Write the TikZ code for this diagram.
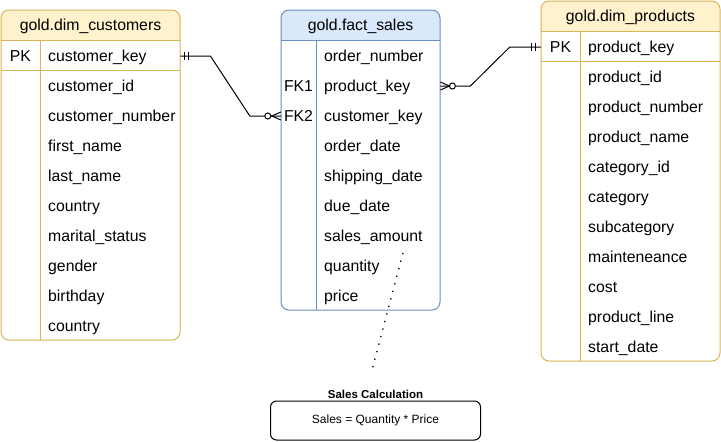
\documentclass[tikz,border=0pt]{standalone}
\usepackage{fontspec}
\setmainfont{Liberation Sans}
\usepackage{tikz}
\usepackage{xcolor}

\definecolor{hdryellow}{HTML}{FFF2CC}
\definecolor{edgegold}{HTML}{D6B656}
\definecolor{hdrblue}{HTML}{DAE8FC}
\definecolor{edgeblue}{HTML}{6C8EBF}

\newcommand{\fieldfont}{\fontsize{15.8}{18}\selectfont}

\tikzset{
  title/.style={inner sep=0pt, font=\fieldfont, text height=14.3pt, text depth=3.35pt},
  field/.style={anchor=west, inner xsep=8pt, inner ysep=0pt, align=left, yshift=-1pt,
                font=\fieldfont, text height=14.3pt, text depth=3.35pt},
  keycell/.style={inner xsep=0pt, inner ysep=0pt, font=\fieldfont, yshift=-1pt,
                  text height=14.3pt, text depth=3.35pt},
  relation/.style={line width=1pt, black},
}

\begin{document}
\begin{tikzpicture}[x=1pt, y=-1pt]
  \useasboundingbox (0,0) rectangle (721,442);

  % Customers table
  \begin{scope}
    \clip[rounded corners=8pt] (1,10) rectangle (180,340);
    \fill[hdryellow] (1,10) rectangle (180,40);
  \end{scope}
  \draw[edgegold, line width=1pt, rounded corners=8pt] (1,10) rectangle (180,340);
  \draw[edgegold, line width=1pt] (1,40) -- (180,40);
  \draw[edgegold, line width=1pt] (1,70) -- (180,70);
  \draw[edgegold, line width=1pt] (40,40) -- (40,340);

  \node[title] (cust-title) at (90.5,25) {gold.dim\_customers};
  \node[keycell, minimum width=39pt] (cust-pk) at (20.5,55) {PK};
  \node[field, text width=124pt] (cust-key)     at (40,55)  {customer\_key};
  \node[field, text width=124pt] (cust-id)      at (40,85)  {customer\_id};
  \node[field, text width=124pt] (cust-number)  at (40,115) {customer\_number};
  \node[field, text width=124pt] (cust-first)   at (40,145) {first\_name};
  \node[field, text width=124pt] (cust-last)    at (40,175) {last\_name};
  \node[field, text width=124pt] (cust-country) at (40,205) {country};
  \node[field, text width=124pt] (cust-marital) at (40,235) {marital\_status};
  \node[field, text width=124pt] (cust-gender)  at (40,265) {gender};
  \node[field, text width=124pt] (cust-birth)   at (40,295) {birthday};
  \node[field, text width=124pt] (cust-cntry2)  at (40,325) {country};

  % Fact table
  \begin{scope}
    \clip[rounded corners=8pt] (281,10) rectangle (440,310);
    \fill[hdrblue] (281,10) rectangle (440,40);
  \end{scope}
  \draw[edgeblue, line width=1pt, rounded corners=8pt] (281,10) rectangle (440,310);
  \draw[edgeblue, line width=1pt] (281,40) -- (440,40);
  \draw[edgeblue, line width=1pt] (316,40) -- (316,310);

  \node[title] (fact-title) at (360.5,25) {gold.fact\_sales};
  \node[keycell, minimum width=35pt] (fact-fk1) at (298.5,85)  {FK1};
  \node[keycell, minimum width=35pt] (fact-fk2) at (298.5,115) {FK2};
  \node[field, text width=108pt] (fact-order)  at (316,55)  {order\_number};
  \node[field, text width=108pt] (fact-pk)     at (316,85)  {product\_key};
  \node[field, text width=108pt] (fact-ck)     at (316,115) {customer\_key};
  \node[field, text width=108pt] (fact-odate)  at (316,145) {order\_date};
  \node[field, text width=108pt] (fact-sdate)  at (316,175) {shipping\_date};
  \node[field, text width=108pt] (fact-ddate)  at (316,205) {due\_date};
  \node[field, text width=108pt] (fact-sa)     at (316,235) {sales\_amount};
  \node[field, text width=108pt] (fact-qty)    at (316,265) {quantity};
  \node[field, text width=108pt] (fact-price)  at (316,295) {price};

  % Products table
  \begin{scope}
    \clip[rounded corners=8pt] (541,1) rectangle (720,361);
    \fill[hdryellow] (541,1) rectangle (720,31);
  \end{scope}
  \draw[edgegold, line width=1pt, rounded corners=8pt] (541,1) rectangle (720,361);
  \draw[edgegold, line width=1pt] (541,31) -- (720,31);
  \draw[edgegold, line width=1pt] (541,61) -- (720,61);
  \draw[edgegold, line width=1pt] (580,31) -- (580,361);

  \node[title] (prod-title) at (630.5,16) {gold.dim\_products};
  \node[keycell, minimum width=39pt] (prod-pk) at (560.5,46) {PK};
  \node[field, text width=124pt] (prod-key)    at (580,46)  {product\_key};
  \node[field, text width=124pt] (prod-id)     at (580,76)  {product\_id};
  \node[field, text width=124pt] (prod-number) at (580,106) {product\_number};
  \node[field, text width=124pt] (prod-name)   at (580,136) {product\_name};
  \node[field, text width=124pt] (prod-catid)  at (580,166) {category\_id};
  \node[field, text width=124pt] (prod-cat)    at (580,196) {category};
  \node[field, text width=124pt] (prod-subcat) at (580,226) {subcategory};
  \node[field, text width=124pt] (prod-maint)  at (580,256) {mainteneance};
  \node[field, text width=124pt] (prod-cost)   at (580,286) {cost};
  \node[field, text width=124pt] (prod-line)   at (580,316) {product\_line};
  \node[field, text width=124pt] (prod-start)  at (580,346) {start\_date};

  % Customers -- fact relation
  \draw[relation] (cust-key.east) -- ++(30,0) -- ([xshift=-31pt]fact-fk2.west) -- (fact-fk2.west);
  \draw[relation] ([xshift=4pt, yshift=4pt]cust-key.east) -- ++(0,8); % one
  \draw[relation] ([xshift=8pt, yshift=4pt]cust-key.east) -- ++(0,8);
  \draw[relation, fill=white] ([xshift=-13pt]fact-fk2.west) circle (3pt); % zero
  \draw[relation]
         ([yshift=4pt]fact-fk2.west) --
         ([xshift=-9pt]fact-fk2.west) --
         ([yshift=-4pt]fact-fk2.west); % many

  % Products -- fact relation
  \draw[relation] (fact-pk.east) -- ++(30,0) -- ([xshift=-31pt]prod-pk.west) -- (prod-pk.west);
  \draw[relation] ([xshift=-9pt, yshift=4pt]prod-pk.west) -- ++(0,8); % one
  \draw[relation] ([xshift=-5pt, yshift=4pt]prod-pk.west) -- ++(0,8);
  \draw[relation, fill=white] ([xshift=12pt]fact-pk.east) circle (3pt); % zero
  \draw[relation]
         ([yshift=4pt]fact-pk.east) --
         ([xshift=9pt]fact-pk.east) --
         ([yshift=-4pt]fact-pk.east); % many

  % Calculation note
  \node[draw, line width=1pt, rounded corners=6pt, minimum width=210pt, minimum height=39pt,
        font=\fontsize{12}{14}\selectfont] (note) at (375.5,420.5) {Sales = Quantity * Price};
  \node[inner sep=0pt, font=\fontsize{11.5}{13}\selectfont\bfseries] (note-title) at (375.5,394.5)
    {Sales Calculation};
  \coordinate (sa-tip) at (403,253);
  \coordinate (note-tip) at (372,370);
  \draw[line width=1.3pt, dash pattern=on 1.3pt off 6.5pt] (sa-tip) -- (note-tip);
\end{tikzpicture}
\end{document}
